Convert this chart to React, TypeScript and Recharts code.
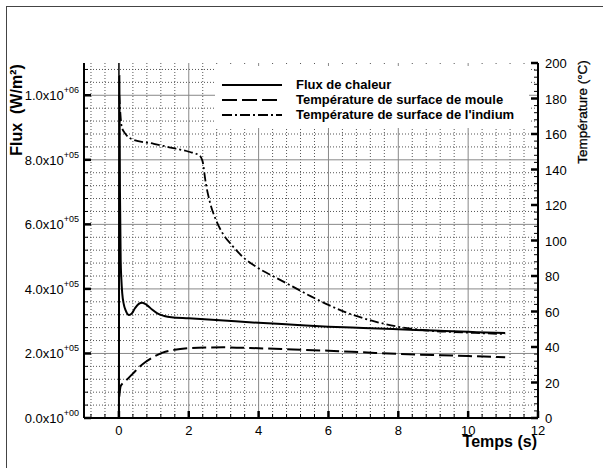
import React from 'react';
import { LineChart, Line, XAxis, YAxis, CartesianGrid, Legend, ReferenceLine, Label } from 'recharts';

// Flux de chaleur (W/m²)
const fluxTime = [0, 0.012, 0.03, 0.05, 0.07, 0.095, 0.14, 0.19, 0.29, 0.37, 0.46, 0.56, 0.67, 0.8, 0.95, 1.1, 1.3, 1.5, 2, 3, 4, 5, 6, 7, 8, 9, 10, 11.06];
const fluxValues = [0, 1060000, 700000, 490000, 430000, 386000, 352000, 334000, 319000, 324000, 340000, 353000, 357000, 350000, 336000, 324000, 316000, 312000, 309000, 302000, 295000, 289000, 283000, 279000, 275000, 271000, 267000, 263000];

// Température de surface de moule (°C)
const mouldTime = [0.01, 0.05, 0.17, 0.4, 0.6, 0.77, 1.0, 1.25, 1.6, 2, 2.5, 3, 4, 5, 6, 7, 8, 9, 10, 11.06];
const mouldTemp = [12, 18, 20.5, 25, 29, 31.7, 34.5, 36.8, 38.4, 39.3, 39.7, 39.8, 39.3, 38.6, 37.9, 37, 36.1, 35.5, 34.9, 34.2];

// Température de surface de l'indium (°C)
const indiumTime = [0.01, 0.04, 0.08, 0.19, 0.38, 1.0, 1.44, 2.0, 2.3, 2.39, 2.49, 2.6, 2.78, 2.97, 3.25, 3.54, 4.0, 4.5, 4.98, 5.5, 6, 6.5, 7, 7.5, 8, 8.5, 9, 9.5, 10, 10.5, 11.06];
const indiumTemp = [182, 172, 164, 160, 157, 154.5, 152.5, 150, 148, 145, 132, 122, 111.5, 104, 97, 90.9, 84.3, 79, 74, 68.5, 63.7, 59.5, 56.2, 53.5, 51.4, 50, 49, 48.5, 48.1, 47.7, 47.3];

const legendNames = ['Flux de chaleur', 'Température de surface de moule', "Température de surface de l'indium"];

// axis ticks (minor + major)
const xTicks = Array.from({ length: 33 }, (_, i) => Math.round((i - 2) * 4) / 10);
const fluxTicks = Array.from({ length: 28 }, (_, i) => i * 40000);
const tempTicks = Array.from({ length: 51 }, (_, i) => i * 4);

const isMajorX = (v: number) => Math.abs(v / 2 - Math.round(v / 2)) < 1e-6;
const majorX = xTicks.filter((v) => isMajorX(v) && v > 0 && v < 12);
const minorX = xTicks.filter((v) => !isMajorX(v));
const majorFlux = fluxTicks.filter((v) => v % 200000 === 0 && v > 0);
const minorFlux = fluxTicks.filter((v) => v % 200000 !== 0);

const fluxData = fluxTime.map((t, i) => ({ t, v: fluxValues[i] }));
const mouldData = mouldTime.map((t, i) => ({ t, v: mouldTemp[i] }));
const indiumData = indiumTime.map((t, i) => ({ t, v: indiumTemp[i] }));

const FONT = '"Liberation Sans", Arial, sans-serif';

function sciParts(v: number) {
  const exp = v === 0 ? 0 : Math.floor(Math.log10(v) + 1e-9);
  const mant = (v / Math.pow(10, exp)).toFixed(1);
  return [mant + 'x10', '+' + String(exp).padStart(2, '0')];
}

const FluxTick = ({ x, y, payload }: any) => {
  const v = payload.value;
  const major = v % 200000 === 0;
  const [base, sup] = sciParts(v);
  return (
    <g>
      <line x1={x} x2={x + (major ? 7 : 4)} y1={y} y2={y} stroke="#000" strokeWidth={major ? 2.5 : 1} />
      {major && (
        <text x={x - 5} y={y + 5} textAnchor="end" fontSize={13} fontFamily={FONT} fill="#000">
          {base}
          <tspan dy={-7} fontSize={9}>{sup}</tspan>
        </text>
      )}
    </g>
  );
};

const TempTick = ({ x, y, payload }: any) => {
  const v = payload.value;
  const major = v % 20 === 0;
  return (
    <g>
      <line x1={x - (major ? 7 : 4)} x2={x} y1={y} y2={y} stroke="#000" strokeWidth={major ? 2.5 : 1} />
      {major && (
        <text x={x + 7} y={y + 5} textAnchor="start" fontSize={13} fontFamily={FONT} fill="#000">
          {v}
        </text>
      )}
    </g>
  );
};

const TimeTick = ({ x, y, payload }: any) => {
  const v = payload.value;
  const major = isMajorX(v);
  return (
    <g>
      <line x1={x} x2={x} y1={y - (major ? 7 : 4)} y2={y} stroke="#000" strokeWidth={major ? 2.5 : 1} />
      {major && (
        <text x={x} y={y + 17} textAnchor="middle" fontSize={13} fontFamily={FONT} fill="#000">
          {Math.round(v)}
        </text>
      )}
    </g>
  );
};

const TopTick = ({ x, y, payload }: any) => {
  const major = isMajorX(payload.value);
  return <line x1={x} x2={x} y1={y} y2={y + (major ? 7 : 4)} stroke="#000" strokeWidth={major ? 2.5 : 1} />;
};

const dashes = [undefined, '15 5', '10 3 2 3'];

const LegendBox = () => (
  <div style={{ width: 314, height: 62, background: '#fff', fontFamily: FONT, position: 'relative' }}>
    {legendNames.map((name, i) => (
      <div key={name} style={{ position: 'absolute', left: 0, top: 11 + i * 15, height: 15, display: 'flex', alignItems: 'center' }}>
        <svg width={72} height={6} style={{ display: 'block' }}>
          <line x1={7} x2={67} y1={3} y2={3} stroke="#000" strokeWidth={2} strokeDasharray={dashes[i]} />
        </svg>
        <span style={{ fontSize: 13, fontWeight: 'bold', marginLeft: 9, whiteSpace: 'nowrap', color: '#000' }}>{name}</span>
      </div>
    ))}
  </div>
);

export default function App() {
  return (
    <div style={{ position: 'fixed', left: 0, top: 0, width: 603, height: 468, overflow: 'hidden', background: '#fff' }}>
      <div style={{ position: 'absolute', left: 6, top: 6, width: 800, height: 800, border: '1px solid #444' }} />
      <LineChart width={603} height={468} margin={{ top: 63, right: 8, bottom: 8, left: 8 }}>
        <CartesianGrid xAxisId="x" yAxisId="flux" horizontalValues={minorFlux} verticalValues={minorX} stroke="#555" strokeDasharray="1 2" />
        <CartesianGrid xAxisId="x" yAxisId="flux" horizontalValues={majorFlux} verticalValues={majorX} stroke="#888" />
        <XAxis
          xAxisId="x"
          dataKey="t"
          type="number"
          domain={[-1, 12]}
          ticks={xTicks}
          interval={0}
          height={42}
          tickSize={0}
          tickMargin={0}
          tickLine={false}
          tick={<TimeTick />}
          axisLine={{ stroke: '#000', strokeWidth: 2 }}
          allowDataOverflow
        >
          <Label
            content={({ viewBox }: any) => (
              <text x={viewBox.x + viewBox.width - 1} y={viewBox.y + 29} textAnchor="end" fontSize={16} fontWeight="bold" fontFamily={FONT} fill="#000">
                Temps (s)
              </text>
            )}
          />
        </XAxis>
        <XAxis
          xAxisId="top"
          orientation="top"
          dataKey="t"
          type="number"
          domain={[-1, 12]}
          ticks={xTicks}
          interval={0}
          height={0}
          tickSize={0}
          tickMargin={0}
          tickLine={false}
          tick={<TopTick />}
          axisLine={{ stroke: '#000', strokeWidth: 2 }}
          allowDataOverflow
        />
        <YAxis
          yAxisId="flux"
          orientation="left"
          type="number"
          domain={[0, 1100000]}
          ticks={fluxTicks}
          interval={0}
          width={76}
          tickSize={0}
          tickMargin={0}
          tickLine={false}
          tick={<FluxTick />}
          axisLine={{ stroke: '#000', strokeWidth: 2 }}
          allowDataOverflow
        >
          <Label
            content={({ viewBox }: any) => {
              const cx = viewBox.x + 8;
              const cy = viewBox.y + 47;
              return (
                <text x={cx} y={cy} transform={`rotate(-90 ${cx} ${cy})`} textAnchor="middle" dominantBaseline="central" fontSize={16} fontWeight="bold" fontFamily={FONT} fill="#000" xmlSpace="preserve">
                  Flux  (W/m²)
                </text>
              );
            }}
          />
        </YAxis>
        <YAxis
          yAxisId="temp"
          orientation="right"
          type="number"
          domain={[0, 200]}
          ticks={tempTicks}
          interval={0}
          width={57}
          tickSize={0}
          tickMargin={0}
          tickLine={false}
          tick={<TempTick />}
          axisLine={{ stroke: '#000', strokeWidth: 2 }}
          allowDataOverflow
        >
          <Label
            content={({ viewBox }: any) => {
              const cx = viewBox.x + 44;
              const cy = viewBox.y + 49;
              return (
                <text x={cx} y={cy} transform={`rotate(-90 ${cx} ${cy})`} textAnchor="middle" dominantBaseline="central" fontSize={13.5} fontFamily={FONT} fill="#000" stroke="#000" strokeWidth={0.3}>
                  Température (°C)
                </text>
              );
            }}
          />
        </YAxis>
        <ReferenceLine xAxisId="x" yAxisId="flux" x={0} stroke="#000" strokeWidth={1.5} />
        <Line xAxisId="x" yAxisId="flux" data={fluxData} dataKey="v" type="monotone" stroke="#000" strokeWidth={2} dot={false} isAnimationActive={false} />
        <Line xAxisId="x" yAxisId="temp" data={mouldData} dataKey="v" type="monotone" stroke="#000" strokeWidth={2} strokeDasharray="14 5" dot={false} isAnimationActive={false} />
        <Line xAxisId="x" yAxisId="temp" data={indiumData} dataKey="v" type="monotone" stroke="#000" strokeWidth={1.8} strokeDasharray="9 3 2 3" dot={false} isAnimationActive={false} />
        <Legend
          layout="horizontal"
          verticalAlign="middle"
          align="center"
          content={<LegendBox />}
          wrapperStyle={{ left: 215, top: 66, width: 314, height: 62, margin: 0 }}
        />
      </LineChart>
    </div>
  );
}
